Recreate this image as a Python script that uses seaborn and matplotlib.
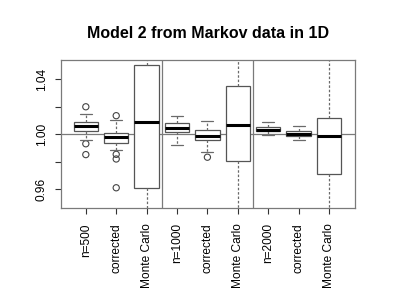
import pandas as pd
import matplotlib
matplotlib.use("Agg")
import matplotlib.pyplot as plt
import seaborn as sns

# Box summaries (whisker ends, quartiles, median)
labels = ["n=500", "corrected", "Monte Carlo",
          "n=1000", "corrected", "Monte Carlo",
          "n=2000", "corrected", "Monte Carlo"]
whisker_lo = [0.9956, 0.9881, 0.930, 0.9922, 0.9873, 0.930, 0.9996, 0.9956, 0.930]
q1 = [1.0022, 0.9939, 0.9609, 1.0018, 0.9959, 0.9805, 1.0020, 0.9988, 0.9712]
median = [1.0059, 0.9983, 1.0086, 1.0046, 0.9990, 1.0069, 1.0034, 1.0000, 0.9988]
q3 = [1.0088, 1.0007, 1.0503, 1.0083, 1.0034, 1.0354, 1.0054, 1.0022, 1.0120]
whisker_hi = [1.0146, 1.0105, 1.070, 1.0130, 1.0093, 1.070, 1.0086, 1.0059, 1.070]

# Outlying points: (box index, value)
outlier_box = [0, 0, 0, 1, 1, 1, 1, 4]
outlier_val = [1.0200, 0.9930, 0.9851, 1.0135, 0.9853, 0.9819, 0.9609, 0.9832]

# five values per box -> with whis=(0, 100) seaborn reproduces the summary exactly
rows = []
for i in range(len(labels)):
    for v in (whisker_lo[i], q1[i], median[i], q3[i], whisker_hi[i]):
        rows.append({"box": str(i), "value": v})
df = pd.DataFrame(rows)
order = [str(i) for i in range(len(labels))]
out = pd.DataFrame({"box": [str(i) for i in outlier_box], "value": outlier_val})

sns.set_style("white")
plt.rcParams["font.family"] = ["Liberation Sans", "DejaVu Sans"]
plt.rcParams["text.color"] = "black"
plt.rcParams["xtick.color"] = "black"
plt.rcParams["ytick.color"] = "black"

frame = "#7a7a7a"
fig = plt.figure(figsize=(4.15, 2.93), dpi=100)
ax = fig.add_axes([0.146, 0.289, 0.709, 0.507])

sns.boxplot(data=df, x="box", y="value", order=order, whis=(0, 100),
            width=0.8, color="white", linecolor="#555555", linewidth=0.9,
            medianprops={"color": "black", "linewidth": 2.2},
            whiskerprops={"linestyle": (0, (2, 1.5)), "color": "#6a6a6a"},
            capprops={"color": "#6a6a6a"},
            showfliers=False, ax=ax)
sns.scatterplot(data=out, x="box", y="value", marker="o", s=20,
                facecolor="none", edgecolor="#444444", linewidth=0.8, ax=ax)

ax.axhline(1.0, color=frame, linewidth=0.9, zorder=0.5)
for xv in (2.5, 5.5):
    ax.axvline(xv, color=frame, linewidth=0.9, zorder=0.5)

ax.set_xlim(-0.83, 8.85)
ax.set_ylim(0.9459, 1.0543)
ax.set_xticks(range(len(labels)))
ax.set_xticklabels(labels, rotation=90, fontsize=8.6)
ax.set_yticks([0.96, 0.98, 1.00, 1.02, 1.04])
ax.set_yticklabels(["0.96", "", "1.00", "", "1.04"], rotation=90,
                   va="center", fontsize=8.6)
ax.tick_params(axis="both", length=4.3, width=0.8, color="#333333",
               left=True, bottom=True)
ax.tick_params(axis="x", pad=6.5)
ax.tick_params(axis="y", pad=5)
ax.set_xlabel("")
ax.set_ylabel("")
for sp in ax.spines.values():
    sp.set_color(frame)
    sp.set_linewidth(0.9)
    sp.set_visible(True)

ax.set_title("Model 2 from Markov data in 1D", fontsize=11.5,
             fontweight="bold", pad=16, color="black")

fig.savefig("out.png", dpi=100)
